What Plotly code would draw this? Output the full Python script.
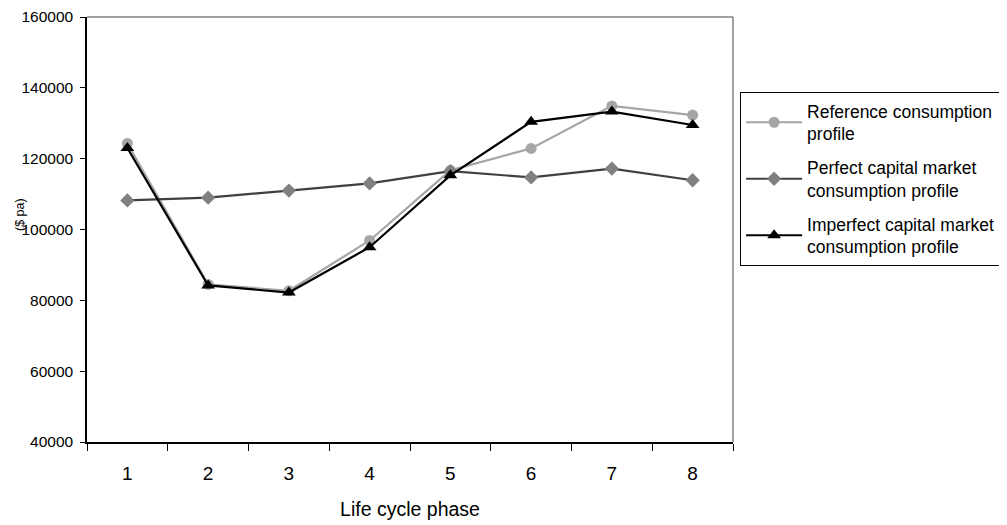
import plotly.graph_objects as go

phases = ["1", "2", "3", "4", "5", "6", "7", "8"]
reference = [124300, 84500, 82700, 96900, 116700, 122900, 134900, 132300]
perfect = [108200, 109000, 111000, 113000, 116500, 114700, 117200, 113900]
imperfect = [123000, 84200, 82200, 95000, 115300, 130400, 133300, 129500]
y_ticks = [40000, 60000, 80000, 100000, 120000, 140000, 160000]
y_tick_labels = [str(v) for v in y_ticks]

# page body has an 8px default margin, so the figure is sized/offset for it
W, H = 999, 517
L, T = 79, 9
PW, PH = 646, 425

fig = go.Figure()
fig.add_trace(go.Scatter(
    x=phases, y=reference, mode="lines+markers",
    name="Reference consumption<br>profile", legendgroup="a",
    line=dict(color="#A6A6A6", width=2.2),
    marker=dict(symbol="circle", size=11, color="#A6A6A6"),
))
fig.add_trace(go.Scatter(
    x=phases, y=perfect, mode="lines+markers",
    name="Perfect capital market<br>consumption profile", legendgroup="b",
    line=dict(color="#404040", width=2.2),
    marker=dict(symbol="diamond", size=11, color="#808080"),
))
fig.add_trace(go.Scatter(
    x=phases, y=imperfect, mode="lines+markers",
    name="Imperfect capital market<br>consumption profile", legendgroup="c",
    line=dict(color="#000000", width=2.2),
    marker=dict(symbol="triangle-up", size=12, color="#000000"),
))

fig.update_layout(
    width=W, height=H,
    margin=dict(l=L, r=W - L - PW, t=T, b=H - T - PH, autoexpand=False),
    paper_bgcolor="white", plot_bgcolor="white",
    font=dict(family="Liberation Sans, Arial", color="#000000"),
    showlegend=True,
    legend=dict(
        x=1.011, y=0.8235, xanchor="left", yanchor="top",
        bordercolor="#000000", borderwidth=1,
        font=dict(size=17.5), tracegroupgap=8,
        itemwidth=56,
    ),
    xaxis=dict(
        type="category", range=[-0.5, 7.5], automargin=False,
        showline=True, linecolor="#000000", linewidth=1.5,
        ticks="outside", tickson="boundaries", ticklen=7, tickcolor="#000000",
        showgrid=False, tickfont=dict(size=19), ticklabelstandoff=13,
        title=dict(text="Life cycle phase", font=dict(size=19.5), standoff=20),
    ),
    yaxis=dict(
        range=[40000, 160000], tickvals=y_ticks, ticktext=y_tick_labels,
        automargin=False,
        showline=True, linecolor="#000000", linewidth=1.5,
        ticks="outside", ticklen=5, tickcolor="#000000",
        showgrid=False, zeroline=False, tickfont=dict(size=15.5),
        ticklabelstandoff=4,
    ),
    annotations=[
        dict(text="($ pa)", xref="paper", yref="paper",
             x=(12 - L) / PW, y=(PH + T - 207) / PH,
             xanchor="center", yanchor="middle", textangle=-90,
             showarrow=False, font=dict(size=12.5)),
    ],
    shapes=[
        dict(type="line", xref="paper", yref="paper", x0=0, x1=1, y0=1, y1=1,
             line=dict(color="#808080", width=1.5)),
        dict(type="line", xref="paper", yref="paper", x0=1, x1=1, y0=0, y1=1,
             line=dict(color="#808080", width=1.5)),
    ],
)

fig.write_html("out.html")
